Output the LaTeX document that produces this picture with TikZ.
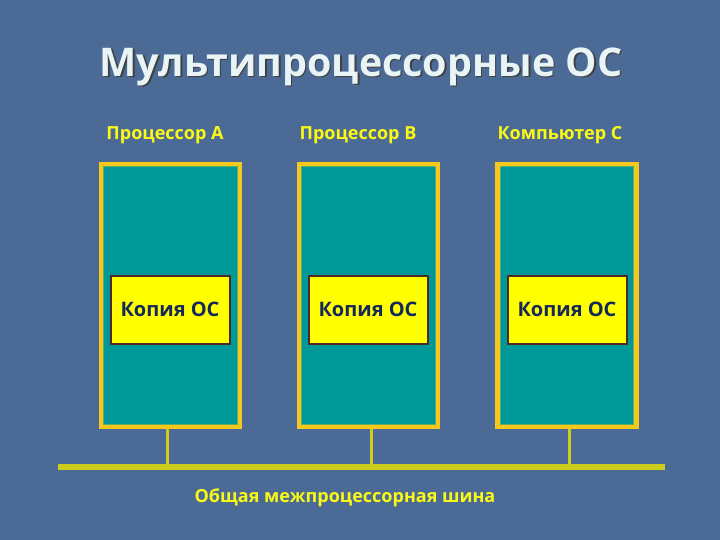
\documentclass[tikz,border=0pt]{standalone}
\usepackage{fontspec}
\setmainfont{Open Sans}
\definecolor{bg}{RGB}{76,106,150}
\definecolor{titlec}{RGB}{232,244,246}
\definecolor{labc}{RGB}{250,250,20}
\definecolor{frame}{RGB}{245,200,30}
\definecolor{tealc}{RGB}{0,153,153}
\definecolor{copyc}{RGB}{255,255,0}
\definecolor{copyb}{RGB}{80,40,40}
\definecolor{copyt}{RGB}{20,40,90}
\definecolor{busc}{RGB}{205,205,30}
\begin{document}
\begin{tikzpicture}[x=1pt,y=-1pt,
  lab/.style={text=labc,font=\bfseries\fontsize{18}{20}\selectfont,inner sep=0pt,anchor=base},
  titlestyle/.style={font=\bfseries\fontsize{39.5}{44}\selectfont,inner sep=0pt,anchor=base},
  procbox/.style={draw=frame,line width=4.5pt,fill=tealc,minimum width=139pt,minimum height=263pt,inner sep=0pt},
  copybox/.style={draw=copyb,line width=2pt,fill=copyc,minimum width=119pt,minimum height=68pt,inner sep=0pt,text=copyt,font=\bfseries\fontsize{20}{22}\selectfont},
  busline/.style={draw=busc,line width=6pt},
  tap/.style={draw=busc,line width=3pt}]
\fill[bg] (0,0) rectangle (720,540);
\useasboundingbox (0,0) rectangle (720,540);
\node[titlestyle,text=black!75] at (362.5,78) {Мультипроцессорные ОС};
\node (title) [titlestyle,text=titlec] at (361,76.5) {Мультипроцессорные ОС};
\node (la) [lab] at (165,140) {Процессор А};
\node (lb) [lab] at (358,140) {Процессор В};
\node (lc) [lab] at (560,140) {Компьютер С};
\node (pa) [procbox] at (170.5,295.5) {};
\node (pb) [procbox] at (368.5,295.5) {};
\node (pc) [procbox] at (567,295.5) {};
\foreach \p in {pa,pb,pc}{
  \draw[tealc!60!frame,line width=0.6pt] ([shift={(5,-5)}]\p.south west) rectangle ([shift={(-5,5)}]\p.north east);
}
\node (ca) [copybox] at (170,309.5) {Копия ОС};
\node (cb) [copybox] at (368,309.5) {Копия ОС};
\node (cc) [copybox] at (567,309.5) {Копия ОС};
\coordinate (bl) at (58,467);
\coordinate (br) at (665,467);
\draw[busline] (bl) -- (br);
\coordinate (ta) at (167,467);
\coordinate (tb) at (371,467);
\coordinate (tc) at (569,467);
\draw[tap] (pa.south -| ta) -- (ta);
\draw[tap] (pb.south -| tb) -- (tb);
\draw[tap] (pc.south -| tc) -- (tc);
\node (bus) [lab] at (345,502) {Общая межпроцессорная шина};
\end{tikzpicture}
\end{document}
